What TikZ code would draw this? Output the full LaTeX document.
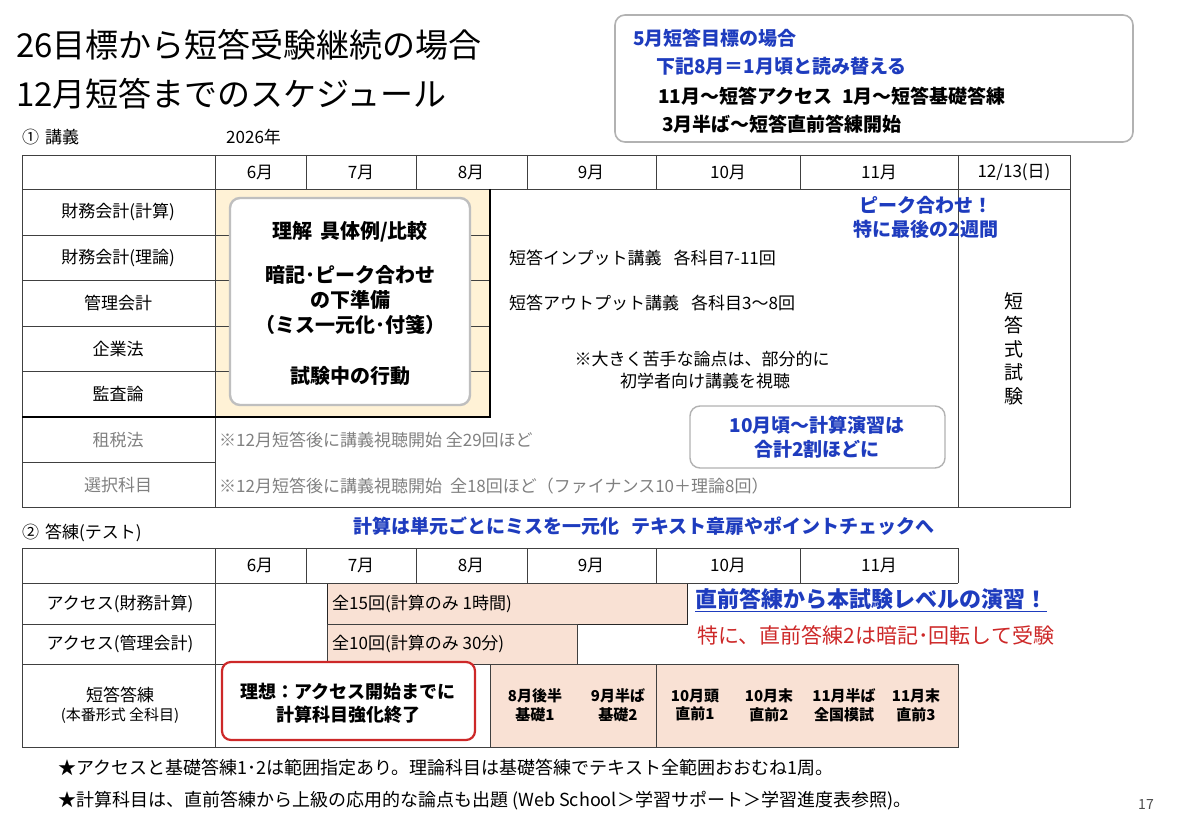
\documentclass[tikz,border=0pt]{standalone}
\usepackage{fontspec}
\setmainfont{Noto Sans CJK JP}
\usetikzlibrary{positioning, calc}
\definecolor{planblue}{RGB}{30,60,190}
\definecolor{planred}{RGB}{205,40,40}
\definecolor{beige}{RGB}{255,242,214}
\definecolor{peach}{RGB}{249,225,212}
\newcommand{\fs}[1]{\fontsize{#1pt}{\dimexpr #1pt*5/4\relax}\selectfont}
\tikzset{
  grid/.style={draw=black!75, line width=0.8pt},
  cell/.style={font=\fs{17}, inner sep=1pt, align=center},
  graytxt/.style={cell, text=black!50},
  bluebold/.style={font=\fs{19}\bfseries, text=planblue, inner sep=1pt, align=center},
  roundbox/.style={draw=black!30, line width=1.6pt, rounded corners=10pt, fill=white}
}
\begin{document}
\begin{tikzpicture}[x=1pt,y=-1pt]
\useasboundingbox (0,0) rectangle (1179,832);

% title
\node[anchor=west, font=\fs{33}, inner sep=0] (title1) at (16,45) {26目標から短答受験継続の場合};
\node[anchor=west, font=\fs{33}, inner sep=0] (title2) at (16,94) {12月短答までのスケジュール};

% note box top right
\draw[roundbox] (615,15) rectangle (1133,142);
\node[bluebold, anchor=west] (may) at (632,38) {5月短答目標の場合};
\node[bluebold, anchor=west] (read) at (655,66) {下記8月＝1月頃と読み替える};
\node[anchor=west, font=\fs{19}\bfseries, inner sep=1pt] (acc) at (657,96) {11月～短答アクセス\hspace{10pt}1月～短答基礎答練};
\node[anchor=west, font=\fs{19}\bfseries, inner sep=1pt] (pre) at (661,124) {3月半ば～短答直前答練開始};

% part 1
\node[anchor=west, font=\fs{17}, inner sep=0] (part1) at (22,137) {①\hspace{6pt}講義};
\node[anchor=west, font=\fs{17}, inner sep=0] (year) at (226,137) {2026年};

\fill[beige] (215,189) rectangle (490,417);
\draw[grid] (22,155) rectangle (1070,507);
\draw[grid] (22,189) -- (1070,189);
\foreach \x in {215,306,416,527,656,800,958} \draw[grid] (\x,155) -- (\x,189);
\draw[grid] (215,189) -- (215,507);
\draw[grid] (958,189) -- (958,507);
\foreach \y in {235,280,326,371} \draw[grid] (22,\y) -- (490,\y);
\draw[grid] (22,462) -- (215,462);
\draw[line width=1.2pt] (490,189) -- (490,417) -- (22,417);

\foreach \m/\x in {6月/260, 7月/361, 8月/471, 9月/591, 10月/728, 11月/879, {12/13(日)}/1014}
  \node[cell] at (\x,172) {\m};
\foreach \r/\y in {財務会計(計算)/212, 財務会計(理論)/258, 管理会計/303, 企業法/349, 監査論/394}
  \node[cell] at (118,\y) {\r};
\node[graytxt] (tax) at (118,440) {租税法};
\node[graytxt] (elec) at (118,485) {選択科目};

\draw[roundbox, line width=2.4pt, draw=black!25] (230,198) rectangle (470,405);
\node[font=\fs{20}\bfseries, align=center, inner sep=0] (prep) at (350,232) {理解\hspace{8pt}具体例/比較};
\node[font=\fs{20}\bfseries, align=center, inner sep=0] (peakprep) at (350,300)
  {暗記･ピーク合わせ\\の下準備\\（ミス一元化･付箋）};
\node[font=\fs{20}\bfseries, inner sep=0] (act) at (350,376) {試験中の行動};

\node[cell, anchor=west] (input) at (508,258) {短答インプット講義\hspace{12pt}各科目7-11回};
\node[cell, anchor=west] (output) at (508,303) {短答アウトプット講義\hspace{12pt}各科目3～8回};
\node[cell] (weak) at (702,370) {※大きく苦手な論点は、部分的に\\\hspace{6pt}初学者向け講義を視聴};
\node[graytxt, anchor=west] (taxnote) at (218,440) {※12月短答後に講義視聴開始 全29回ほど};
\node[graytxt, anchor=west] (elecnote) at (218,486) {※12月短答後に講義視聴開始\hspace{8pt}全18回ほど（ファイナンス10＋理論8回）};
\node[bluebold, align=center] (peak) at (926,217) {ピーク合わせ！\\特に最後の2週間};
\draw[roundbox, line width=1.4pt] (690,406) rectangle (945,468);
\node[bluebold] (calc) at (817,437) {10月頃～計算演習は\\合計2割ほどに};
\node[cell, font=\fs{19}, text width=20pt] (exam) at (1014,349) {短\\答\\式\\試\\験};

% part 2
\node[anchor=west, font=\fs{17}, inner sep=0] (part2) at (22,533) {②\hspace{6pt}答練(テスト)};
\node[bluebold] (unit) at (644,526) {計算は単元ごとにミスを一元化\hspace{12pt}テキスト章扉やポイントチェックへ};

\fill[peach] (490,664) rectangle (958,747);
\draw[grid, fill=peach, draw=black!85] (327,583) rectangle (687,624);
\draw[grid, fill=peach] (327,624) rectangle (577,664);
\draw[grid] (22,548) -- (958,548);
\draw[grid] (22,548) -- (22,747) -- (958,747) -- (958,664);
\draw[grid] (958,548) -- (958,583);
\draw[grid] (22,583) -- (958,583);
\foreach \x in {215,306,416,527,656,800} \draw[grid] (\x,548) -- (\x,583);
\draw[grid] (215,583) -- (215,747);
\draw[grid] (22,624) -- (215,624);
\draw[grid] (22,664) -- (958,664);
\draw[grid] (656,664) -- (656,747);
\draw[grid] (490,664) -- (490,747);

\foreach \m/\x in {6月/260, 7月/361, 8月/471, 9月/591, 10月/728, 11月/879}
  \node[cell] at (\x,565) {\m};
\node[cell] (accf) at (120,604) {アクセス(財務計算)};
\node[cell] (accm) at (120,644) {アクセス(管理会計)};
\node[cell] (drill) at (120,705) {短答答練\\[-2pt]{\fs{15}(本番形式 全科目)}};
\node[cell, anchor=west] (n15) at (331,604) {全15回(計算のみ 1時間)};
\node[cell, anchor=west] (n10) at (331,644) {全10回(計算のみ 30分)};

\draw[draw=planred, line width=2.2pt, rounded corners=9pt, fill=white] (222,662) rectangle (475,740);
\node[font=\fs{18}\bfseries, align=center, inner sep=0] (ideal) at (348,703) {理想：アクセス開始までに\\計算科目強化終了};
\foreach \a/\b/\x in {8月後半/基礎1/535, 9月半ば/基礎2/618, 10月頭/直前1/695, 10月末/直前2/769, 11月半ば/全国模試/844, 11月末/直前3/916}
  \node[font=\fs{15}\bfseries, align=center, inner sep=0] at (\x,705) {\a\\\b};

\node[font=\fs{22}\bfseries, text=planblue, anchor=west, inner sep=1pt] (level) at (694,600) {\underline{直前答練から本試験レベルの演習！}};
\node[font=\fs{21}, text=planred, anchor=west, inner sep=0] (memo) at (697,635) {特に、直前答練2は暗記･回転して受験};

% footnotes
\node[anchor=west, font=\fs{18}, inner sep=0] (foot1) at (58,768) {★アクセスと基礎答練1･2は範囲指定あり。理論科目は基礎答練でテキスト全範囲おおむね1周。};
\node[anchor=west, font=\fs{18}, inner sep=0] (foot2) at (58,801) {★計算科目は、直前答練から上級の応用的な論点も出題 (Web School＞学習サポート＞学習進度表参照)。};
\node[font=\fs{14}, text=black!70] (page) at (1146,805) {17};
\end{tikzpicture}
\end{document}
